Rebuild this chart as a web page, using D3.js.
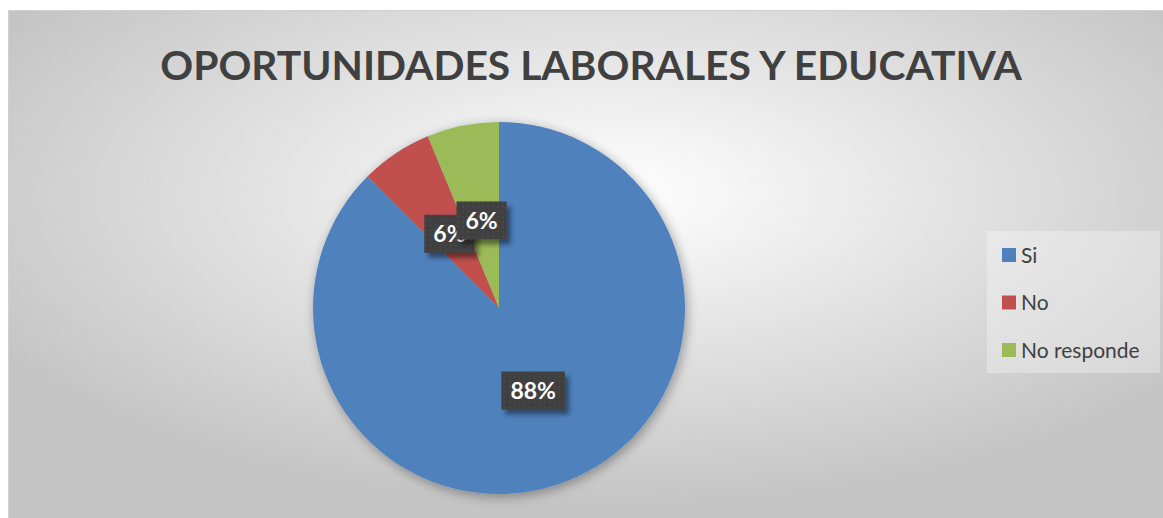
<!DOCTYPE html>
<html>
<head>
<meta charset="utf-8">
<script src="https://cdn.jsdelivr.net/npm/d3@7"></script>
<style>
  body { margin: 0; background: #fff; }
  svg { display: block; }
</style>
</head>
<body>
<div id="chart"></div>
<script>
// data (16 answers)
const categories = ["Si", "No", "No responde"];
const counts = [14, 1, 1];
const colors = ["#4F81BD", "#C0504D", "#9BBB59"];
const title = "OPORTUNIDADES LABORALES Y EDUCATIVA";

const W = 1163, H = 518;
const svg = d3.select("#chart").append("svg")
    .attr("width", W)
    .attr("height", H);

const defs = svg.append("defs");

// background gradient of the chart area
const bg = defs.append("radialGradient")
    .attr("id", "bg")
    .attr("cx", "52%").attr("cy", "36%").attr("r", "62%")
    .attr("gradientUnits", "objectBoundingBox");
bg.append("stop").attr("offset", "0%").attr("stop-color", "#ffffff");
bg.append("stop").attr("offset", "100%").attr("stop-color", "#c4c4c4");

// soft shadow for the pie and the labels
const sh = defs.append("filter").attr("id", "shadow")
    .attr("x", "-20%").attr("y", "-20%").attr("width", "140%").attr("height", "140%");
sh.append("feGaussianBlur").attr("in", "SourceAlpha").attr("stdDeviation", 6).attr("result", "b");
sh.append("feOffset").attr("in", "b").attr("dx", 2).attr("dy", 3).attr("result", "o");
sh.append("feComponentTransfer").attr("in", "o").attr("result", "s")
    .append("feFuncA").attr("type", "linear").attr("slope", 0.35);
const m = sh.append("feMerge");
m.append("feMergeNode").attr("in", "s");
m.append("feMergeNode").attr("in", "SourceGraphic");

const lsh = defs.append("filter").attr("id", "lshadow")
    .attr("x", "-30%").attr("y", "-30%").attr("width", "170%").attr("height", "170%");
lsh.append("feGaussianBlur").attr("in", "SourceAlpha").attr("stdDeviation", 2.5).attr("result", "b");
lsh.append("feOffset").attr("in", "b").attr("dx", 4).attr("dy", 5).attr("result", "o");
lsh.append("feComponentTransfer").attr("in", "o").attr("result", "s")
    .append("feFuncA").attr("type", "linear").attr("slope", 0.45);
const m2 = lsh.append("feMerge");
m2.append("feMergeNode").attr("in", "s");
m2.append("feMergeNode").attr("in", "SourceGraphic");

// dotted texture of the label boxes
const pat = defs.append("pattern").attr("id", "dots")
    .attr("width", 5).attr("height", 5).attr("patternUnits", "userSpaceOnUse");
pat.append("rect").attr("width", 5).attr("height", 5).attr("fill", "#404040");
pat.append("rect").attr("x", 1).attr("y", 1).attr("width", 1).attr("height", 1).attr("fill", "#5a5a5a");

// chart area
svg.append("rect")
    .attr("x", 8.5).attr("y", 10.5)
    .attr("width", W - 8).attr("height", H - 10)
    .attr("fill", "url(#bg)")
    .attr("stroke", "#d0d0d0");

// title, scaled to the width it has in the picture
const t = svg.append("text")
    .attr("x", 591).attr("y", 80)
    .attr("text-anchor", "middle")
    .attr("font-family", "Lato, 'Open Sans', sans-serif")
    .attr("font-weight", "bold")
    .attr("font-size", 50)
    .attr("fill", "#404040")
    .text(title);
let tw = t.node().getComputedTextLength();
if (tw > 862) t.attr("font-size", 50 * 862 / tw);

// pie
const cx = 499, cy = 308, R = 186;
const total = d3.sum(counts);
const data = categories.map((c, i) => ({ name: c, value: counts[i], color: colors[i] }));
const pie = d3.pie().value(d => d.value).sort(null);
const arcs = pie(data);
const arc = d3.arc().innerRadius(0).outerRadius(R);
const labelArc = d3.arc().innerRadius(R * 0.48).outerRadius(R * 0.48);

const g = svg.append("g").attr("transform", `translate(${cx},${cy})`);
g.append("g").attr("filter", "url(#shadow)")
    .selectAll("path")
    .data(arcs)
    .join("path")
    .attr("d", arc)
    .attr("fill", d => d.data.color);

const labels = g.selectAll("g.lbl")
    .data(arcs)
    .join("g")
    .attr("class", "lbl")
    .attr("transform", d => {
        const [x, y] = labelArc.centroid(d);
        return `translate(${x},${y})`;
    });

labels.append("text")
    .attr("text-anchor", "middle")
    .attr("dy", "0.36em")
    .attr("font-family", "Lato, 'Open Sans', sans-serif")
    .attr("font-weight", "bold")
    .attr("font-size", 23)
    .attr("fill", "#ffffff")
    .text(d => Math.round(d.data.value / total * 100) + "%")
    .each(function () {
        const b = this.getBBox();
        const padX = 9, h = 38;
        d3.select(this.parentNode).insert("rect", "text")
            .attr("x", b.x - padX).attr("y", -h / 2)
            .attr("width", b.width + 2 * padX).attr("height", h)
            .attr("fill", "url(#dots)")
            .attr("filter", "url(#lshadow)");
    });

// legend
const lg = svg.append("g").attr("transform", "translate(987,231)");
lg.append("rect")
    .attr("width", 173).attr("height", 142)
    .attr("fill", "#ffffff").attr("fill-opacity", 0.3);

const item = lg.selectAll("g.item")
    .data(data)
    .join("g")
    .attr("class", "item")
    .attr("transform", (d, i) => `translate(15,${17 + i * 47.5})`);

item.append("rect")
    .attr("width", 14).attr("height", 14)
    .attr("fill", d => d.color);

item.append("text")
    .attr("x", 19).attr("y", 7)
    .attr("dy", "0.36em")
    .attr("font-family", "Lato, 'Open Sans', sans-serif")
    .attr("font-size", 21)
    .attr("fill", "#404040")
    .text(d => d.name);
</script>
</body>
</html>
